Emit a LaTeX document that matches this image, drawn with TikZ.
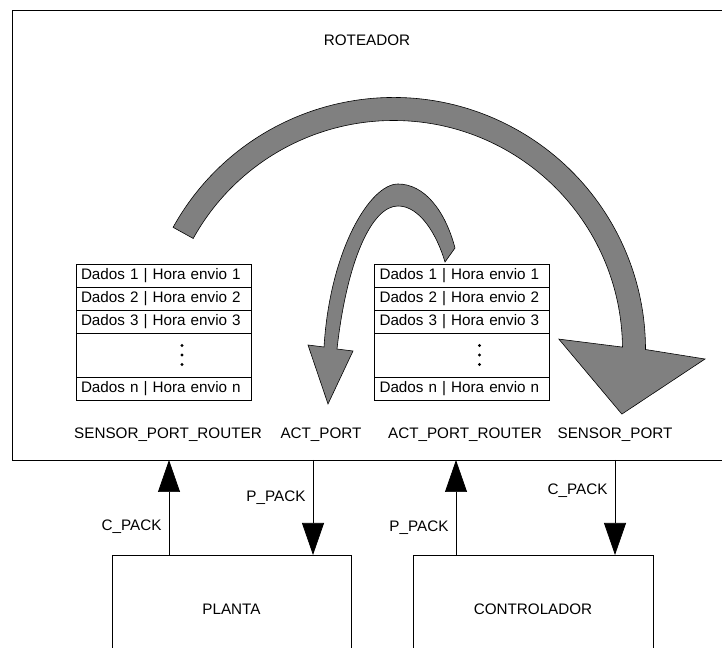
\documentclass[tikz,border=0pt]{standalone}
\usepackage{fontspec}
\setmainfont{Liberation Sans}
\usetikzlibrary{positioning,arrows.meta}
\definecolor{bandgray}{RGB}{128,128,128}

\begin{document}
\begin{tikzpicture}[font=\fontsize{13}{15.6}\selectfont,
  box/.style={draw, line width=0.6pt, inner sep=0pt, outer sep=0pt},
  cell/.style={draw, line width=0.6pt, text width=4.95cm, inner xsep=0.15cm,
    inner ysep=0pt, minimum height=0.69cm, align=left, outer sep=0pt},
  flow/.style={-{Triangle[length=0.96cm,width=0.66cm]}, line width=0.6pt},
  band/.style={fill=bandgray, draw=black, line width=0.5pt},
  node distance=0pt]
  \useasboundingbox (0,0) rectangle (21.66,19.44);
  \clip (0,0) rectangle (21.66,19.44);

  % router and the two blocks below it
  \node[box, anchor=south west, minimum width=22cm, minimum height=13.5cm] (router) at (0.36,5.64) {};
  \node (rtitle) at (11.01,18.24) {ROTEADOR};
  \node[box, minimum width=7.17cm, minimum height=3.24cm] (planta) at (6.945,1.17) {PLANTA};
  \node[box, minimum width=7.2cm, minimum height=3.24cm] (ctrl) at (15.99,1.17) {CONTROLADOR};

  % buffers
  \node[cell, anchor=north] (l1) at (4.905,11.52) {Dados 1 | Hora envio 1};
  \node[cell, below=of l1] (l2) {Dados 2 | Hora envio 2};
  \node[cell, below=of l2] (l3) {Dados 3 | Hora envio 3};
  \node[cell, below=of l3, minimum height=1.32cm] (l4) {};
  \node[cell, below=of l4] (l5) {Dados n | Hora envio n};
  \node[cell, anchor=north] (r1) at (13.86,11.52) {Dados 1 | Hora envio 1};
  \node[cell, below=of r1] (r2) {Dados 2 | Hora envio 2};
  \node[cell, below=of r2] (r3) {Dados 3 | Hora envio 3};
  \node[cell, below=of r3, minimum height=1.32cm] (r4) {};
  \node[cell, below=of r4] (r5) {Dados n | Hora envio n};
  \coordinate (ldots) at ([xshift=3.18cm]l4.west);
  \coordinate (rdots) at ([xshift=3.15cm]r4.west);
  \foreach \k in {-1,0,1} {
    \fill ([yshift=\k*0.285cm]ldots) circle (0.05);
    \fill ([yshift=\k*0.285cm]rdots) circle (0.05);
  }

  % ports
  \node (tspr) at (5.04,6.39) {SENSOR\_PORT\_ROUTER};
  \node (tap)  at (9.63,6.39) {ACT\_PORT};
  \node (tapr) at (13.95,6.39) {ACT\_PORT\_ROUTER};
  \node (tsp)  at (18.45,6.39) {SENSOR\_PORT};
  \coordinate (spr) at (5.07,5.64);
  \coordinate (ap)  at (9.39,5.64);
  \coordinate (apr) at (13.68,5.64);
  \coordinate (sp)  at (18.45,5.64);

  \draw[flow] (planta.north -| spr) -- node[pos=0.295, left=0.1cm] (lcp1) {C\_PACK} (spr);
  \draw[flow] (ap) -- node[pos=0.4, left=0.1cm] (lpp1) {P\_PACK} (planta.north -| ap);
  \draw[flow] (ctrl.north -| apr) -- node[pos=0.284, left=0.1cm] (lpp2) {P\_PACK} (apr);
  \draw[flow] (sp) -- node[pos=0.326, left=0.1cm] (lcp2) {C\_PACK} (ctrl.north -| sp);

  % big curved arrow
  \coordinate (bigc) at (11.805,8.955);
  \draw[band] ([shift={(151:7.56)}]bigc) arc[start angle=151, end angle=0, radius=7.56]
    -- ([shift={(-1.75:9.35)}]bigc) -- ([shift={(-15.8:7.12)}]bigc)
    -- ([shift={(3.6:4.97)}]bigc) -- ([shift={(0.6:6.87)}]bigc)
    arc[start angle=0.6, end angle=151, radius=6.87] -- cycle;

  % small curved arrow
  \draw[band] (13.65,12.0) .. controls (13.35,13.14) and (12.72,13.92) .. (11.94,13.92)
    .. controls (11.1,13.92) and (9.9,11.94) .. (9.72,9.03)
    -- (9.24,9.09) -- (9.84,7.32) -- (10.59,8.91) -- (10.11,8.97)
    .. controls (10.41,11.64) and (11.16,13.26) .. (11.94,13.26)
    .. controls (12.6,13.26) and (13.11,12.39) .. (13.35,11.58) -- cycle;
\end{tikzpicture}
\end{document}
